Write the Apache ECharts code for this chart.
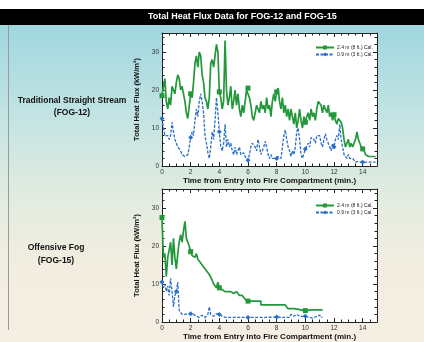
<!DOCTYPE html>
<html><head><meta charset="utf-8">
<script src="https://cdn.jsdelivr.net/npm/echarts@6/dist/echarts.min.js"></script>
<style>html,body{margin:0;padding:0;background:#fff}#c{width:424px;height:342px}</style>
</head><body><div id="c"></div>
<script>
const titleText = 'Total Heat Flux Data for FOG-12 and FOG-15';
const seriesNames = ['2.4 m (8 ft.) Cal.', '0.9 m (3 ft.) Cal.'];
const xTicks = [0, 2, 4, 6, 8, 10, 12, 14];
const yTicks = [0, 10, 20, 30];

// FOG-12 (top), sampled every 0.1 min
const topTime = [0,0.1,0.2,0.3,0.4,0.5,0.6,0.7,0.8,0.9,1,1.1,1.2,1.3,1.4,1.5,1.6,1.7,1.8,1.9,2,2.1,2.2,2.3,2.4,2.5,2.6,2.7,2.8,2.9,3,3.1,3.2,3.3,3.4,3.5,3.6,3.7,3.8,3.9,4,4.1,4.2,4.3,4.4,4.5,4.6,4.7,4.8,4.9,5,5.1,5.2,5.3,5.4,5.5,5.6,5.7,5.8,5.9,6,6.1,6.2,6.3,6.4,6.5,6.6,6.7,6.8,6.9,7,7.1,7.2,7.3,7.4,7.5,7.6,7.7,7.8,7.9,8,8.1,8.2,8.3,8.4,8.5,8.6,8.7,8.8,8.9,9,9.1,9.2,9.3,9.4,9.5,9.6,9.7,9.8,9.9,10,10.1,10.2,10.3,10.4,10.5,10.6,10.7,10.8,10.9,11,11.1,11.2,11.3,11.4,11.5,11.6,11.7,11.8,11.9,12,12.1,12.2,12.3,12.4,12.5,12.6,12.7,12.8,12.9,13,13.1,13.2,13.3,13.4,13.5,13.6,13.7,13.8,13.9,14,14.1,14.2,14.3,14.4,14.5,14.6,14.7,14.8,14.9];
const topHigh = [18.5,19,23,17,15,18,16,21,20,19,22,24,23,20,21,19,17,14,12.5,13,19,18,22,27,29,26,30,29,24,22,18,17,15,18,27,28,26,29,32,30,19.5,18,15,17,33,20,16,18,21,15,17,20,16,19,15,13,16,14,17,20,20.5,18,16,13,12,14,16,15,14,17,15,16,14,18,15,16,13,17,19,17,19.5,20.5,17,15,18,14,16,13,15,12,15,13,11,14,10,12,15,12,10,13,11.5,13,14,12,15,13,14,12,15,17,17,16,14,16,15,14,16,13,14,12,13.5,12,11,12.5,12,11.5,10,7,5,6,7,5,6,5,6,7,9,7,6,5,4.5,4,3,2.5,2.5,2.5,2.5,2.5,2.5,2.5];
const topLow = [12.5,10,8,7.5,8,7,8,11.5,9,7,6,5,4.5,4,3,2.5,2.5,2.5,3,5,7.5,9,8,12,15,13,17,19,17,14,8,6,3.5,2,5,9,7,12,18,14,9,5,4,6,11,5,7,5,6,4,3,5,3,4,5,3,2.5,3.5,2.5,2,1.5,3,5,6,6.5,5,4,7,5,3,3.5,5,6.5,5,3,2,3,2,1.5,2,2,2.5,3,2,5,8,9.5,7,5,4,2.5,4,3,5,9,10,7,3,2,1.5,4.5,4,6,5,7.5,8,7,6,8,8.5,8,6,5,7,8.5,7,6,5,4,6,5,7,8,7,11,7,5,3,3,2,3,2,1.5,2,1.5,1,1.5,1.2,1,1,1,1,1,1,1,1,1,1,1,1];
const topHighMarks = [0, 2, 4, 6, 8, 10, 12, 14];
const topLowMarks = [0, 2, 4, 6, 8, 10, 12, 14];

// FOG-15 (bottom)
const botHighTime = [0,0.05,0.1,0.2,0.3,0.4,0.5,0.6,0.7,0.8,0.9,1,1.1,1.2,1.3,1.4,1.5,1.6,1.7,1.8,1.9,2,2.1,2.2,2.3,2.4,2.5,2.6,2.7,2.8,2.9,3,3.1,3.2,3.3,3.4,3.5,3.6,3.7,3.8,3.9,4,4.1,4.2,4.3,4.4,4.6,4.8,5,5.2,5.4,5.6,5.8,6,6.9,6.9,8.6,8.6,8.8,9,9.2,9.3,10,10.5,11.2];
const botHigh = [27.5,22,17,18,12,17,19,21,15,22,17,14,18,21,23,21,24,26.5,22,21,20,18.5,17.5,18,17,18,16.5,17,15.5,16,14.5,14,13.5,13,12.5,12,11,10,9.5,9,10.5,9,9.5,8.5,9,8,8,8,7.5,8,7,7,6,5.5,5.5,4.5,4.5,4,3.5,3.5,3.5,3.2,3,3.2,3.2];
const botLowTime = [0,0.1,0.2,0.3,0.4,0.5,0.6,0.7,0.8,0.9,1,1.1,1.2,1.3,1.4,1.6,1.8,2,2.2,2.4,2.5,2.6,2.8,3,3.2,3.3,3.4,3.6,3.8,4,4.2,4.4,5,6,7,8,8.5,8.9,9,9.2,9.4,9.6,10,10.5,11,11.1,11.2];
const botLow = [10.5,9,10,8,9.5,7,11.5,8,4,7,8,10.5,3,2.5,2,2,2.2,2.2,2,1.5,2,1.2,1.8,1.2,2,4,2,1.5,2.2,2,1.5,1.2,1.2,1.2,1.2,1.3,1.2,1.2,2,1.5,2,1.5,1.5,1,1.8,1.2,1.2];
const botHighMarks = [0, 2, 4, 6, 8, 10];
const botLowMarks = [0, 1, 2, 4, 6, 8, 10];

const GREEN = '#23983a', BLUE = '#2b6ec8';
function pts(t, v, marks, sym) {
  const used = new Set();
  return t.map((x, i) => {
    let s = 'none';
    const m = marks.find(mm => Math.abs(mm - x) < 1e-6);
    if (m !== undefined && !used.has(m)) { used.add(m); s = sym; }
    return { value: [x, v[i]], symbol: s };
  });
}

const chart = echarts.init(document.getElementById('c'));
const FONT = 'Liberation Sans';
const grids = [
  { left: 162, top: 33, width: 215, height: 133 },
  { left: 162, top: 189, width: 215, height: 134 }
];
const xAxes = [], yAxes = [];
grids.forEach((g, gi) => {
  const base = {
    gridIndex: gi, type: 'value', min: 0, max: 15, interval: 2,
    axisLine: { show: true, onZero: false, lineStyle: { color: '#222', width: 1 } },
    splitLine: { show: false },
    axisTick: { inside: true, length: 4, lineStyle: { color: '#222' } },
    minorTick: { show: true, splitNumber: 4, length: 2.5, lineStyle: { color: '#222' } }
  };
  xAxes.push(Object.assign({}, base, {
    position: 'bottom',
    name: 'Time from Entry into Fire Compartment (min.)', nameLocation: 'middle', nameGap: 11,
    nameTextStyle: { fontFamily: FONT, fontSize: 8, fontWeight: 'bold', color: '#111' },
    axisLabel: { fontFamily: FONT, fontSize: 6.5, color: '#333', margin: 3,
      formatter: v => xTicks.includes(v) ? String(v) : '' }
  }));
  xAxes.push(Object.assign({}, base, { position: 'top', axisLabel: { show: false } }));
  const ybase = {
    gridIndex: gi, type: 'value', min: 0, max: 35, interval: 10,
    axisLine: { show: true, onZero: false, lineStyle: { color: '#222', width: 1 } },
    splitLine: { show: false },
    axisTick: { inside: true, length: 4, lineStyle: { color: '#222' } },
    minorTick: { show: true, splitNumber: 5, length: 2.5, lineStyle: { color: '#222' } }
  };
  yAxes.push(Object.assign({}, ybase, {
    position: 'left',
    name: 'Total Heat Flux (kW/m²)', nameLocation: 'middle', nameGap: 10, nameRotate: 90,
    nameTextStyle: { fontFamily: FONT, fontSize: 7.5, fontWeight: 'bold', color: '#111' },
    axisLabel: { fontFamily: FONT, fontSize: 6.5, color: '#333', margin: 3,
      formatter: v => yTicks.includes(v) ? String(v) : '' }
  }));
  yAxes.push(Object.assign({}, ybase, { position: 'right', axisLabel: { show: false } }));
});

function lineSeries(name, gi, data, color, sym, dashed) {
  return {
    name, type: 'line', xAxisIndex: gi * 2, yAxisIndex: gi * 2, data,
    symbol: sym, symbolSize: 5, showSymbol: true, showAllSymbol: true,
    itemStyle: { color }, lineStyle: { color, width: dashed ? 1.3 : 1.7, type: dashed ? [3, 1.5] : 'solid' },
    animation: false, z: dashed ? 3 : 2
  };
}

const series = [
  lineSeries(seriesNames[0], 0, pts(topTime, topHigh, topHighMarks, 'rect'), GREEN, 'rect', false),
  lineSeries(seriesNames[1], 0, pts(topTime, topLow, topLowMarks, 'diamond'), BLUE, 'diamond', true),
  lineSeries(seriesNames[0], 1, pts(botHighTime, botHigh, botHighMarks, 'rect'), GREEN, 'rect', false),
  lineSeries(seriesNames[1], 1, pts(botLowTime, botLow, botLowMarks, 'diamond'), BLUE, 'diamond', true)
];

const legendBase = {
  orient: 'vertical', itemWidth: 18, itemHeight: 5, itemGap: 2, selectedMode: false,
  textStyle: { fontFamily: FONT, fontSize: 5, color: '#222', padding: [0, 0, 0, -2] },
  data: seriesNames
};

chart.setOption({
  animation: false,
  graphic: [
    { type: 'rect', z: -100, silent: true, shape: { x: 0, y: 25, width: 424, height: 317 },
      style: { fill: new echarts.graphic.LinearGradient(0, 0, 0, 1, [
        { offset: 0, color: '#9fd7df' }, { offset: 0.3, color: '#c4e4e3' },
        { offset: 0.55, color: '#e3ece0' }, { offset: 0.75, color: '#f1ede0' }, { offset: 1, color: '#f4efe2' }]) } },
    { type: 'rect', z: -99, silent: true, shape: { x: 0, y: 9, width: 424, height: 16 }, style: { fill: '#000' } },
    { type: 'line', z: -98, silent: true, shape: { x1: 8.5, y1: 25, x2: 8.5, y2: 330 }, style: { stroke: '#9a9a9a', lineWidth: 1 } },
    { type: 'text', z: 10, left: 148, top: 12, style: { text: titleText, fill: '#fff', font: 'bold 9px "Liberation Sans"' } },
    { type: 'text', z: 10, style: { x: 72, y: 101, text: 'Traditional Straight Stream', fill: '#111', font: 'bold 8.5px "Liberation Sans"', align: 'center', verticalAlign: 'middle' } },
    { type: 'text', z: 10, style: { x: 72, y: 113, text: '(FOG-12)', fill: '#111', font: 'bold 8.5px "Liberation Sans"', align: 'center', verticalAlign: 'middle' } },
    { type: 'text', z: 10, style: { x: 56, y: 248, text: 'Offensive Fog', fill: '#111', font: 'bold 8.5px "Liberation Sans"', align: 'center', verticalAlign: 'middle' } },
    { type: 'text', z: 10, style: { x: 56, y: 261, text: '(FOG-15)', fill: '#111', font: 'bold 8.5px "Liberation Sans"', align: 'center', verticalAlign: 'middle' } }
  ],
  grid: grids.map(g => Object.assign({ show: true, backgroundColor: '#fff', borderWidth: 0, containLabel: false }, g)),
  xAxis: xAxes,
  yAxis: yAxes,
  legend: [
    Object.assign({}, legendBase, { left: 310, top: 40 }),
    Object.assign({}, legendBase, { left: 310, top: 198 })
  ],
  series
});
</script></body></html>
